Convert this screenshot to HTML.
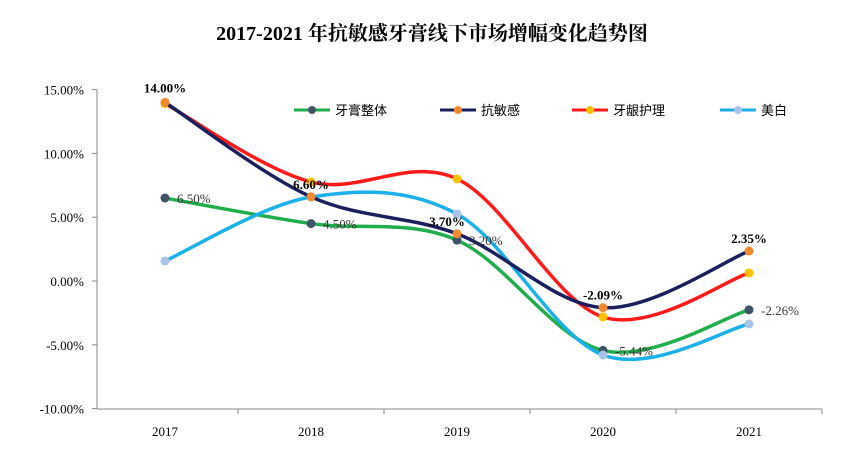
<!DOCTYPE html>
<html><head><meta charset="utf-8"><style>
body{margin:0;background:#fff;width:865px;height:449px;overflow:hidden}
svg text{font-family:"Liberation Serif","Noto Serif CJK SC",serif}
</style></head><body>
<svg id="c" width="865" height="449">
<text x="432" y="40" text-anchor="middle" font-size="20" font-weight="bold">2017-2021 年抗敏感牙膏线下市场增幅变化趋势图</text>
</svg>
<script>
const categories=["2017","2018","2019","2020","2021"];
const yTicks=[15,10,5,0,-5,-10];
const seriesNames=["牙膏整体","抗敏感","牙龈护理","美白"];
const totalVals=[6.5,4.5,3.2,-5.44,-2.26];
const sensitiveVals=[14.0,6.6,3.7,-2.09,2.35];
const gumVals=[13.9,7.76,8.0,-2.82,0.63];
const whiteVals=[1.57,6.58,5.25,-5.8,-3.37];
const NS="http://www.w3.org/2000/svg",svg=document.getElementById('c');
const x=i=>165+i*146, y=v=>281-v*12.76;
function mk(t,a,p){const e=document.createElementNS(NS,t);for(const k in a)e.setAttribute(k,a[k]);(p||svg).appendChild(e);return e;}
let ax=mk('line',{x1:97,y1:90,x2:97,y2:409,stroke:'#888'});


let bx=mk('line',{x1:97,y1:409,x2:822,y2:409,stroke:'#888'});


yTicks.forEach(v=>{let t=mk('text',{x:84,y:y(v)+5,'text-anchor':'end','font-size':13});t.textContent=v.toFixed(2)+'%';


mk('line',{x1:92,x2:97,y1:y(v),y2:y(v),stroke:'#888'});});
categories.forEach((c,i)=>{let t=mk('text',{x:x(i),y:436,'text-anchor':'middle','font-size':13});t.textContent=c;


mk('line',{x1:x(i)+73,x2:x(i)+73,y1:409,y2:414,stroke:'#888'});});
function path(vals){const p=vals.map((v,i)=>[x(i),y(v)]);let d='M'+p[0];for(let i=0;i<p.length-1;i++){const p0=p[Math.max(i-1,0)],p1=p[i],p2=p[i+1],p3=p[Math.min(i+2,p.length-1)],k=1/6;
d+=` C${p1[0]+(p2[0]-p0[0])*k},${p1[1]+(p2[1]-p0[1])*k} ${p2[0]-(p3[0]-p1[0])*k},${p2[1]-(p3[1]-p1[1])*k} ${p2[0]},${p2[1]}`;}return d;}
const series=[[totalVals,'#1fae4b','#3f5468','series-total'],[gumVals,'#ff1a1a','#ffc000','series-gum'],[whiteVals,'#1ab0ea','#a9c4e8','series-whitening'],[sensitiveVals,'#1a1f5e','#f08a2c','series-sensitive']];
series.forEach(([vals,lc,mc,name])=>{let g=mk('g',{});
mk('path',{d:path(vals),fill:'none',stroke:lc,'stroke-width':3.5},g);
vals.forEach((v,i)=>{let c=mk('circle',{cx:x(i),cy:y(v),r:4.5,fill:mc},g);

});});
sensitiveVals.forEach((v,i)=>{let t=mk('text',{x:x(i)+(i==2?-10:0),y:y(v)-(i==0?10:(i==3?-0:8))-(i==3?8:0),'text-anchor':'middle','font-size':13,'font-weight':'bold'});t.textContent=v.toFixed(2)+'%';

});
totalVals.forEach((v,i)=>{let t=mk('text',{x:x(i)+12,y:y(v)+5,'font-size':13,fill:'#333'});t.textContent=v.toFixed(2)+'%';

});
const legX=[294,440,572,720];
[['#1fae4b','#3f5468'],['#1a1f5e','#f08a2c'],['#ff1a1a','#ffc000'],['#1ab0ea','#a9c4e8']].forEach((c,i)=>{let g=mk('g',{});


mk('line',{x1:legX[i],x2:legX[i]+36,y1:110,y2:110,stroke:c[0],'stroke-width':3},g);
mk('circle',{cx:legX[i]+18,cy:110,r:4,fill:c[1]},g);
let t=mk('text',{x:legX[i]+41,y:115,'font-size':13,style:'font-family:"Liberation Sans","Noto Sans CJK SC",sans-serif'},g);t.textContent=seriesNames[i];});
</script>
</body></html>
